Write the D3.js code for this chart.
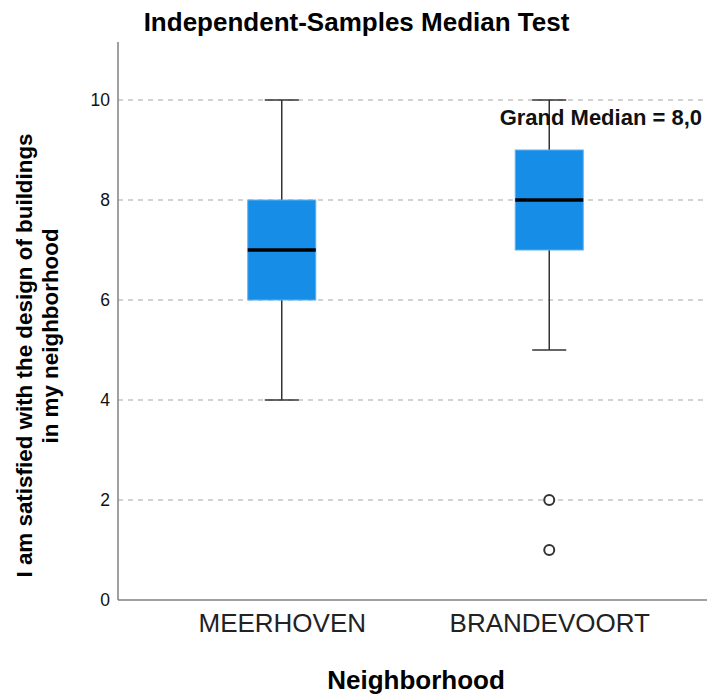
<!DOCTYPE html>
<html>
<head>
<meta charset="utf-8">
<script src="https://cdn.jsdelivr.net/npm/d3@7"></script>
<style>
    body { margin: 0; background: #fff; }
    text { font-family: "Liberation Sans", Arial, sans-serif; }
</style>
</head>
<body>
<svg id="canvas" width="707" height="697"></svg>
<script>
const categories = ["MEERHOVEN", "BRANDEVOORT"];
const whiskerLow = [4, 5];
const quartile1 = [6, 7];
const medians = [7, 8];
const quartile3 = [8, 9];
const whiskerHigh = [10, 10];
const outliers = [[], [2, 1]];
const yTicks = [0, 2, 4, 6, 8, 10];
const grandMedian = 8.0;

const svg = d3.select("#canvas");
const width = 707;
const height = 697;
const plotLeft = 118;
const plotBottom = 600;
const plotTop = 42;

const x = d3.scalePoint()
    .domain(categories)
    .range([148, 683])
    .padding(0.5);

const y = d3.scaleLinear()
    .domain([0, 11.16])
    .range([plotBottom, plotTop]);

const boxWidth = 68;
const capWidth = 34;

drawGrid();
drawBoxes();
drawAxes();
drawLabels();

function drawGrid() {
    svg.append("g")
        .selectAll("line")
        .data(yTicks.filter(d => d > 0))
        .join("line")
        .attr("x1", plotLeft)
        .attr("x2", width)
        .attr("y1", d => y(d))
        .attr("y2", d => y(d))
        .attr("stroke", "#c4c4c4")
        .attr("stroke-width", 1.5)
        .attr("stroke-dasharray", "5,5");
}

function drawBoxes() {
    const data = categories.map((c, i) => ({
        name: c,
        lo: whiskerLow[i],
        q1: quartile1[i],
        med: medians[i],
        q3: quartile3[i],
        hi: whiskerHigh[i],
        out: outliers[i]
    }));

    const g = svg.append("g");

    const box = g.selectAll("g.box")
        .data(data)
        .join("g")
        .attr("class", "box");

    // whisker stems
    box.append("line")
        .attr("x1", d => x(d.name))
        .attr("x2", d => x(d.name))
        .attr("y1", d => y(d.hi))
        .attr("y2", d => y(d.lo))
        .attr("stroke", "#333")
        .attr("stroke-width", 1.5);

    // caps
    box.selectAll("line.cap")
        .data(d => [d.lo, d.hi].map(v => ({ name: d.name, v })))
        .join("line")
        .attr("class", "cap")
        .attr("x1", d => x(d.name) - capWidth / 2)
        .attr("x2", d => x(d.name) + capWidth / 2)
        .attr("y1", d => y(d.v))
        .attr("y2", d => y(d.v))
        .attr("stroke", "#333")
        .attr("stroke-width", 1.5);

    box.append("rect")
        .attr("x", d => x(d.name) - boxWidth / 2)
        .attr("width", boxWidth)
        .attr("y", d => y(d.q3))
        .attr("height", d => y(d.q1) - y(d.q3))
        .attr("fill", "#168ee8")
        .attr("stroke", "#5eaff0")
        .attr("stroke-width", 1);

    box.append("line")
        .attr("x1", d => x(d.name) - boxWidth / 2)
        .attr("x2", d => x(d.name) + boxWidth / 2)
        .attr("y1", d => y(d.med))
        .attr("y2", d => y(d.med))
        .attr("stroke", "#000")
        .attr("stroke-width", 3.5);

    box.selectAll("circle")
        .data(d => d.out.map(v => ({ name: d.name, v })))
        .join("circle")
        .attr("cx", d => x(d.name))
        .attr("cy", d => y(d.v))
        .attr("r", 5)
        .attr("fill", "#fff")
        .attr("stroke", "#333")
        .attr("stroke-width", 2);
}

function drawAxes() {
    const yAxis = svg.append("g")
        .attr("transform", `translate(${plotLeft},0)`)
        .call(d3.axisLeft(y).tickValues(yTicks).tickSize(0).tickPadding(8));
    yAxis.select(".domain").remove();
    yAxis.selectAll("text")
        .attr("font-size", 17.5)
        .attr("fill", "#111")
        .attr("font-family", "Liberation Sans, Arial, sans-serif");

    const xAxis = svg.append("g")
        .attr("transform", `translate(0,${plotBottom})`)
        .call(d3.axisBottom(x).tickSize(0).tickPadding(14));
    xAxis.select(".domain").remove();
    xAxis.selectAll("text")
        .attr("font-size", 26)
        .attr("fill", "#222")
        .attr("font-family", "Liberation Sans, Arial, sans-serif");

    const g = svg.append("g")
        .attr("stroke", "#808080")
        .attr("stroke-width", 1.5);

    g.append("line")
        .attr("x1", plotLeft)
        .attr("y1", plotTop)
        .attr("x2", plotLeft)
        .attr("y2", plotBottom);

    g.append("line")
        .attr("x1", plotLeft)
        .attr("y1", plotBottom)
        .attr("x2", width)
        .attr("y2", plotBottom);
}

function drawLabels() {
    svg.append("text")
        .attr("x", 356.5)
        .attr("y", 31)
        .attr("text-anchor", "middle")
        .attr("font-size", 26)
        .attr("font-weight", "bold")
        .text("Independent-Samples Median Test");

    svg.append("text")
        .attr("x", 702)
        .attr("y", 125)
        .attr("text-anchor", "end")
        .attr("font-size", 22)
        .attr("font-weight", "bold")
        .attr("fill", "#111")
        .text("Grand Median = " + grandMedian.toFixed(1).replace(".", ","));

    svg.append("text")
        .attr("x", 416)
        .attr("y", 689)
        .attr("text-anchor", "middle")
        .attr("font-size", 26)
        .attr("font-weight", "bold")
        .text("Neighborhood");

    svg.append("text")
        .attr("transform", "translate(32,355.5) rotate(-90)")
        .attr("text-anchor", "middle")
        .attr("font-size", 22.4)
        .attr("font-weight", "bold")
        .text("I am satisfied with the design of buildings");

    svg.append("text")
        .attr("transform", "translate(57.5,336) rotate(-90)")
        .attr("text-anchor", "middle")
        .attr("font-size", 22.4)
        .attr("font-weight", "bold")
        .text("in my neighborhood");
}
</script>
</body>
</html>
